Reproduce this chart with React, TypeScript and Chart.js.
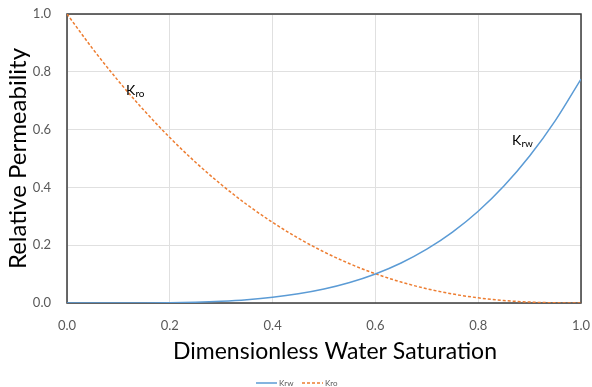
import React, { useEffect, useRef } from "react";
import { Chart, registerables } from "chart.js";

Chart.register(...registerables);

const saturation = [0, 0.05, 0.1, 0.15, 0.2, 0.25, 0.3, 0.35, 0.4, 0.45, 0.5, 0.55, 0.6, 0.65, 0.7, 0.75, 0.8, 0.85, 0.9, 0.95, 1.0];
const krw = [0, 0.000005, 0.00008, 0.0004, 0.0012, 0.003, 0.0063, 0.0116, 0.0198, 0.0318, 0.0484, 0.0709, 0.1004, 0.1383, 0.1861, 0.2452, 0.3174, 0.4046, 0.5085, 0.6312, 0.775];
const kro = [1.0, 0.8797, 0.7684, 0.6661, 0.5724, 0.4871, 0.41, 0.3406, 0.2789, 0.2243, 0.1768, 0.1358, 0.1012, 0.0725, 0.0493, 0.0313, 0.0179, 0.0087, 0.0032, 0.0006, 0];
const xTicks = [0, 0.2, 0.4, 0.6, 0.8, 1.0];
const seriesNames = ["Krw", "Kro"];
const xTitle = "Dimensionless Water Saturation";
const yTitle = "Relative Permeability";
const labelsText = [
  { main: "K", sub: "ro", x: 0.115, y: 0.737 },
  { main: "K", sub: "rw", x: 0.866, y: 0.564 },
];

const FONT = "Lato, 'Open Sans', sans-serif";
const BLUE = "#5B9BD5";
const ORANGE = "#ED7D31";

const framePlugin = {
  id: "frame",
  beforeDatasetsDraw(chart: any) {
    const { ctx, chartArea } = chart;
    ctx.save();
    ctx.strokeStyle = "#3a3a3a";
    ctx.lineWidth = 1.5;
    ctx.strokeRect(chartArea.left, chartArea.top, chartArea.right - chartArea.left, chartArea.bottom - chartArea.top);
    ctx.restore();
  },
  afterDraw(chart: any) {
    const { ctx, scales, chartArea } = chart;
    ctx.save();
    ctx.fillStyle = "#000";
    ctx.textBaseline = "middle";
    // x title
    ctx.font = `23px ${FONT}`;
    ctx.textAlign = "center";
    ctx.fillText(xTitle, (chartArea.left + chartArea.right) / 2 + 11, 352);
    for (const l of labelsText) {
      const px = scales.x.getPixelForValue(l.x);
      const py = scales.y.getPixelForValue(l.y);
      ctx.font = `14px ${FONT}`;
      ctx.textAlign = "left";
      ctx.fillText(l.main, px, py);
      const w = ctx.measureText(l.main).width;
      ctx.font = `10px ${FONT}`;
      ctx.fillText(l.sub, px + w, py + 4);
    }
    // legend
    const cy = 383;
    const items = [
      { name: seriesNames[0], color: BLUE, dash: [] as number[] },
      { name: seriesNames[1], color: ORANGE, dash: [3, 2] },
    ];
    let x = 256;
    ctx.font = `8px ${FONT}`;
    for (const it of items) {
      ctx.strokeStyle = it.color;
      ctx.lineWidth = 1.5;
      ctx.setLineDash(it.dash);
      ctx.beginPath();
      ctx.moveTo(x, cy);
      ctx.lineTo(x + 21, cy);
      ctx.stroke();
      ctx.setLineDash([]);
      ctx.fillStyle = "#595959";
      ctx.textAlign = "left";
      ctx.fillText(it.name, x + 23, cy);
      x += 46;
    }
    ctx.restore();
  },
};

export default function App() {
  const ref = useRef<HTMLCanvasElement>(null);
  useEffect(() => {
    document.body.style.margin = "0";
    const chart = new Chart(ref.current!, {
      type: "line",
      data: {
        datasets: [
          {
            label: seriesNames[0],
            data: saturation.map((s, i) => ({ x: s, y: krw[i] })),
            borderColor: BLUE,
            borderWidth: 1.5,
            pointRadius: 0,
            cubicInterpolationMode: "monotone",
          },
          {
            label: seriesNames[1],
            data: saturation.map((s, i) => ({ x: s, y: kro[i] })),
            borderColor: ORANGE,
            borderWidth: 1.5,
            borderDash: [3, 2],
            pointRadius: 0,
            cubicInterpolationMode: "monotone",
          },
        ],
      },
      plugins: [framePlugin],
      options: {
        animation: false,
        responsive: false,
        events: [],
        layout: { padding: { top: 14, right: 11, left: 0, bottom: 0 } },
        plugins: { legend: { display: false }, tooltip: { enabled: false } },
        scales: {
          x: {
            type: "linear",
            min: 0,
            max: 1,
            afterBuildTicks(scale: any) {
              scale.ticks = xTicks.map((v) => ({ value: v }));
            },
            afterFit(scale: any) {
              scale.height = 84;
              scale.paddingLeft = 0;
              scale.paddingRight = 0;
            },
            grid: { color: "#e0e0e0", lineWidth: 1, drawTicks: false },
            border: { display: false },
            ticks: {
              padding: 15,
              color: "#595959",
              font: { family: FONT, size: 13 },
              callback: (v: any) => Number(v).toFixed(1),
              maxRotation: 0,
            },
            title: { display: false },
          },
          y: {
            type: "linear",
            min: 0,
            max: 1,
            afterBuildTicks(scale: any) {
              scale.ticks = xTicks.map((v) => ({ value: v }));
            },
            afterFit(scale: any) {
              scale.width = 67;
              scale.paddingTop = 0;
              scale.paddingBottom = 0;
            },
            grid: { color: "#e0e0e0", lineWidth: 1, drawTicks: false },
            border: { display: false },
            ticks: {
              padding: 16,
              color: "#595959",
              font: { family: FONT, size: 13 },
              callback: (v: any) => Number(v).toFixed(1),
            },
            title: {
              display: true,
              text: yTitle,
              color: "#000",
              font: { family: FONT, size: 24 },
              padding: { top: 4, bottom: 0 },
            },
          },
        },
      },
    } as any);
    return () => chart.destroy();
  }, []);
  return (
    <div style={{ width: 592, height: 387 }}>
      <canvas ref={ref} width={592} height={387} style={{ width: 592, height: 387, display: "block" }} />
    </div>
  );
}
